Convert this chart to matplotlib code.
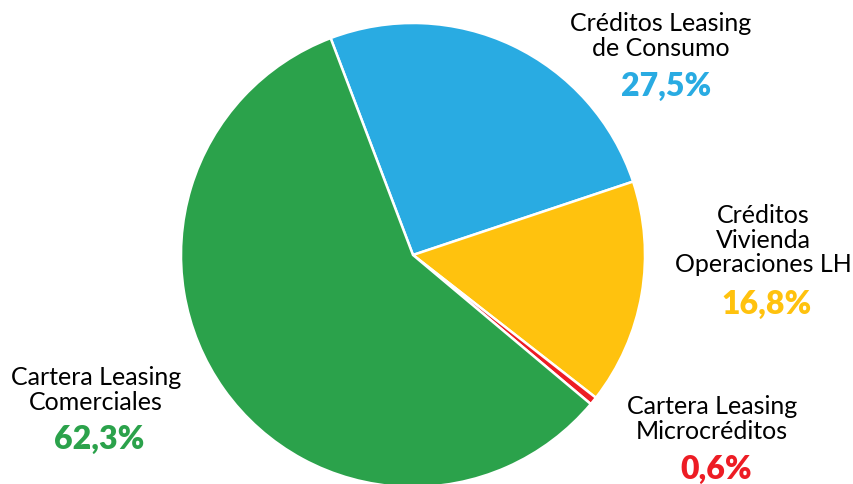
import matplotlib
matplotlib.use("Agg")
import matplotlib.pyplot as plt

labels = ["Créditos Leasing\nde Consumo", "Créditos\nVivienda\nOperaciones LH",
          "Cartera Leasing\nMicrocréditos", "Cartera Leasing\nComerciales"]
values = [27.5, 16.8, 0.6, 62.3]
pct_labels = ["27,5%", "16,8%", "0,6%", "62,3%"]
colors = ["#29ABE2", "#FFC20E", "#ED1C24", "#2BA24B"]

W, H = 854, 484
cx, cy, R = 413, 255, 232

fig = plt.figure(figsize=(W / 100, H / 100), dpi=100)
ax = fig.add_axes([0, 0, 1, 1])
ax.pie(values, colors=colors, startangle=110.8, counterclock=False,
       radius=1, center=(0, 0),
       wedgeprops=dict(edgecolor="white", linewidth=1.8))
ax.set_xlim(-cx / R, (W - cx) / R)
ax.set_ylim(-(H - cy) / R, cy / R)
ax.set_aspect("auto")
ax.axis("off")


def px(x, y):
    return (x - cx) / R, (cy - y) / R


# (label center x, label center y, pct center x, pct center y)
pos = [
    (661, 36, 666, 86),
    (763, 240, 767, 304),
    (712, 419, 716, 469),
    (96, 390, 99, 439),
]
for lab, pl, col, (lx, ly, qx, qy) in zip(labels, pct_labels, colors, pos):
    ax.text(*px(lx, ly), lab, ha="center", va="center", fontsize=18,
            family="Lato", color="black", linespacing=1.1)
    ax.text(*px(qx, qy), pl, ha="center", va="center", fontsize=23,
            family="Lato", fontweight="heavy", color=col)

fig.savefig("out.png", dpi=100)
